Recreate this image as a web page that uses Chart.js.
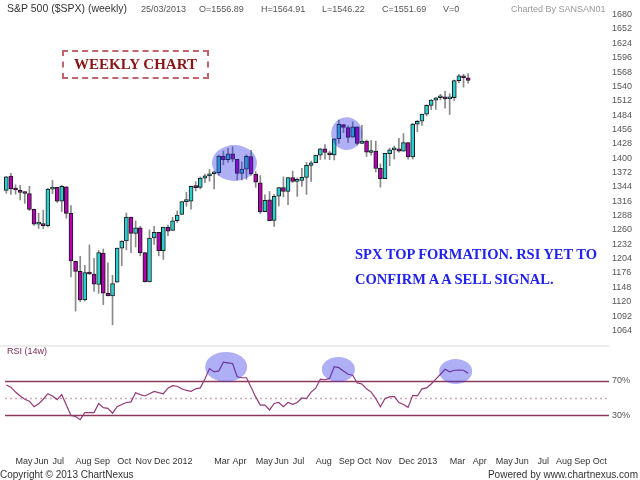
<!DOCTYPE html>
<html>
<head>
<meta charset="utf-8">
<script src="https://cdn.jsdelivr.net/npm/chart.js@4.4.0/dist/chart.umd.min.js"></script>
<style>
  body { margin: 0; background: #fff; width: 640px; height: 480px; overflow: hidden; position: relative;
         font-family: "Liberation Sans", Arial, sans-serif; }
  .t { position: absolute; white-space: nowrap; }
  .hd { top: 3px; font-size: 9px; color: #555; line-height: 12px; }
  #box { position: absolute; left: 62px; top: 50px; width: 147px; height: 29px; box-sizing: border-box;
         border: 2px dashed #c0646e; font: bold 15px "Liberation Serif", serif; color: #8b1414;
         text-align: center; line-height: 25px; }
  #note { position: absolute; left: 355px; top: 242px; font: bold 14.5px "Liberation Serif", serif;
          color: #2222ee; line-height: 25px; white-space: nowrap; }
</style>
</head>
<body>
<div style="position:absolute;left:0;top:0;width:640px;height:346px"><canvas id="priceChart"></canvas></div>
<div style="position:absolute;left:0;top:345px;width:609px;height:2px;background:#ececec"></div>
<div style="position:absolute;left:0;top:346px;width:640px;height:134px"><canvas id="rsiChart"></canvas></div>

<div class="t" style="left:7px;top:2px;font-size:10.5px;color:#333">S&amp;P 500 ($SPX) (weekly)</div>
<div class="t hd" style="left:141px">25/03/2013</div>
<div class="t hd" style="left:199px">O=1556.89</div>
<div class="t hd" style="left:261px">H=1564.91</div>
<div class="t hd" style="left:322px">L=1546.22</div>
<div class="t hd" style="left:382px">C=1551.69</div>
<div class="t hd" style="left:443px">V=0</div>
<div class="t hd" style="left:511px;color:#999">Charted By SANSAN01</div>

<div id="box">WEEKLY CHART</div>
<div id="note">SPX TOP FORMATION. RSI YET TO<br>CONFIRM A A SELL SIGNAL.</div>

<div class="t" style="left:7px;top:346px;font-size:9px;color:#7a2b55">RSI (14w)</div>
<div class="t" style="left:0;top:469px;font-size:10px;color:#333">Copyright © 2013 ChartNexus</div>
<div class="t" style="right:2px;top:469px;font-size:10px;color:#333">Powered by www.chartnexus.com</div>

<script>
// weekly S&P 500 candles, week of 25 Apr 2011 to week of 25 Mar 2013
const opens = [1337.1,1365.2,1340.2,1334.4,1333.1,1331.1,1300.3,1271.3,1271.5,1268.4,
  1339.6,1343.3,1315.9,1344.3,1292.6,1198.5,1179.2,1123.5,1177.9,1174.0,
  1153.5,1215.0,1136.9,1131.2,1158.2,1224.5,1238.7,1285.0,1253.2,1263.9,
  1215.6,1158.7,1244.3,1255.1,1219.7,1265.0,1258.9,1277.8,1290.2,1315.3,
  1316.2,1344.3,1343.1,1361.2,1365.2,1369.6,1371.9,1404.2,1397.1,1408.5,
  1397.5,1370.3,1378.5,1403.3,1368.8,1351.9,1295.7,1318.9,1278.3,1325.7,
  1342.4,1334.9,1362.3,1354.7,1356.5,1362.3,1385.9,1391.0,1405.9,1418.1,
  1410.4,1406.5,1437.9,1465.4,1459.5,1440.9,1460.9,1428.8,1433.2,1411.0,
  1414.0,1380.1,1359.9,1409.0,1416.3,1418.1,1413.5,1430.2,1402.4,1466.5,
  1472.1,1486.0,1503.0,1513.2,1517.9,1519.8,1515.6,1518.2,1551.2,1560.7,1556.89];
const highs = [1364.6,1370.6,1348.0,1346.8,1334.6,1345.2,1300.6,1292.5,1298.6,1341.0,
  1356.5,1343.3,1347.0,1344.3,1307.4,1199.0,1208.5,1190.7,1230.7,1204.4,
  1220.4,1222.8,1195.9,1171.4,1224.6,1239.0,1293.0,1285.0,1277.6,1267.0,
  1215.6,1260.1,1267.1,1255.1,1265.4,1269.4,1284.6,1296.8,1315.5,1333.5,
  1345.3,1354.3,1363.4,1368.9,1378.0,1374.8,1405.9,1414.0,1419.2,1422.4,
  1397.5,1392.8,1406.6,1415.3,1373.9,1365.9,1328.5,1334.9,1329.1,1343.3,
  1363.5,1362.2,1374.8,1361.5,1380.4,1391.7,1394.2,1405.9,1418.7,1426.7,
  1413.6,1437.9,1474.5,1465.6,1463.2,1471.0,1461.0,1464.0,1435.5,1434.3,
  1433.4,1388.8,1409.2,1419.7,1423.7,1438.6,1448.0,1430.2,1467.9,1474.0,
  1486.0,1504.2,1514.4,1518.3,1524.7,1530.9,1525.8,1552.5,1563.6,1563.6,1564.91];
const lows = [1331.5,1329.2,1329.6,1318.5,1311.8,1297.9,1268.7,1262.9,1262.7,1265.6,
  1330.9,1313.5,1295.9,1282.9,1168.1,1101.5,1120.0,1121.1,1172.9,1140.1,
  1136.2,1114.2,1131.1,1074.8,1158.2,1190.4,1221.1,1215.4,1226.6,1209.4,
  1158.7,1158.7,1231.5,1209.5,1202.4,1248.6,1258.9,1274.7,1290.2,1306.1,
  1300.5,1335.9,1340.0,1352.3,1354.9,1340.0,1366.7,1386.9,1391.6,1392.9,
  1357.4,1357.4,1358.8,1367.0,1343.1,1292.0,1295.7,1277.8,1266.7,1306.6,
  1324.4,1309.3,1352.4,1325.4,1345.1,1329.2,1354.7,1391.0,1397.3,1398.0,
  1397.0,1396.6,1429.1,1449.6,1430.5,1440.9,1425.5,1428.1,1403.3,1406.0,
  1373.0,1343.4,1359.9,1385.4,1398.2,1411.9,1413.5,1398.1,1398.1,1451.6,
  1463.8,1482.4,1494.7,1495.0,1513.6,1497.3,1485.0,1512.3,1547.4,1538.6,1546.22];
const closes = [1363.6,1340.2,1337.8,1333.3,1331.1,1300.2,1271.0,1271.5,1268.5,1339.7,
  1343.8,1316.1,1345.0,1292.3,1199.4,1178.8,1123.5,1176.8,1174.0,1154.2,
  1216.0,1136.4,1131.4,1155.5,1224.6,1238.3,1285.1,1253.2,1263.9,1215.7,
  1158.7,1244.3,1255.2,1219.7,1265.3,1257.6,1277.8,1289.1,1315.4,1316.3,
  1344.9,1342.6,1361.2,1365.7,1369.6,1370.9,1404.2,1397.1,1408.5,1398.1,
  1370.3,1378.5,1403.4,1369.1,1353.4,1295.2,1317.8,1278.0,1325.7,1342.8,
  1335.0,1362.2,1354.7,1356.8,1362.7,1386.0,1391.0,1405.9,1418.2,1411.1,
  1406.6,1437.9,1465.8,1460.2,1440.7,1460.9,1428.6,1433.2,1411.9,1414.2,
  1379.9,1359.9,1409.2,1416.2,1418.1,1413.6,1430.2,1402.4,1466.5,1472.1,
  1486.0,1503.0,1513.2,1517.9,1519.8,1515.6,1518.2,1551.2,1560.7,1556.9,1551.69];

// RSI (14w)
const rsi = [65.1,62.5,56.8,52.3,48.5,46.2,39.8,43.2,48.5,54.9,
  52.3,48.1,53.8,41.7,29.7,28.5,24.8,33.1,33.1,33.1,
  43.6,38.7,38.0,32.3,39.8,42.5,44.7,45.5,56.1,53.8,
  52.3,54.9,57.6,56.1,54.9,61.3,64.3,63.6,60.6,58.7,
  57.6,60.6,61.7,71.9,84.0,80.2,81.3,91.5,90.7,90.0,
  74.5,73.4,73.4,62.5,51.2,41.7,41.7,36.1,43.6,44.7,
  39.8,44.7,42.5,44.7,50.0,49.3,56.8,61.3,71.9,71.1,
  72.6,86.2,85.1,81.3,77.5,76.4,67.4,66.2,60.6,56.8,
  49.3,39.8,49.3,51.2,51.9,44.7,42.5,39.1,53.0,52.3,
  60.6,61.7,66.2,71.9,77.5,83.2,80.2,82.1,82.4,82.1,78.7];

const priceTicks = [1064,1092,1120,1148,1176,1204,1232,1260,1288,1316,1344,1372,
  1400,1428,1456,1484,1512,1540,1568,1596,1624,1652,1680];
const rsiLevels = [70, 50, 30];
const rsiTicks = [70, 30];

const monthTickWeek = [2,6,10,15,19,24,28,32,36,45,49,54,58,62,67,72,76,80,85,89,96,101,106,110,115,119,123,127];
const monthTickText = ['May','Jun','Jul','Aug','Sep','Oct','Nov','Dec','2012','Mar','Apr','May','Jun','Jul',
  'Aug','Sep','Oct','Nov','Dec','2013','Mar','Apr','May','Jun','Jul','Aug','Sep','Oct'];

// hand-drawn ovals (centre week, centre level, half width in weeks, half height in value units)
const priceOvalWeek = [49.4, 73.7];
const priceOvalLevel = [1390.5, 1448];
const priceOvalHalfWeeks = [4.87, 3.36];
const priceOvalHalfSpan = [35, 32];
const rsiOvalWeek = [47.6, 71.9, 97.3];
const rsiOvalLevel = [85.9, 83.0, 80.7];
const rsiOvalHalfWeeks = [4.55, 3.57, 3.57];
const rsiOvalHalfSpan = [17.4, 14.5, 14.5];

// axis runs on to Oct 2013 : 131 weekly slots
const weeks = [];
const start = new Date(Date.UTC(2011, 3, 25));
for (let i = 0; i < 131; i++) {
  const d = new Date(start.getTime() + i * 7 * 86400000);
  weeks.push(d.toISOString().slice(0, 10));
}

const UP = '#2ccfcf', DOWN = '#b400b4';
const FONT = "'Liberation Sans', Arial, sans-serif";

// keep the plot area edge to edge, no room for half tick labels
const noPad = s => { s.paddingTop = 0; s.paddingBottom = 0; s.paddingLeft = 0; s.paddingRight = 0; };

const ovalPlugin = {
  id: 'ovals',
  afterDatasetsDraw(chart, args, o) {
    const { ctx, scales: { x, y } } = chart;
    ctx.save();
    ctx.fillStyle = 'rgba(45,45,230,0.38)';
    o.week.forEach((w, k) => {
      const cx = x.getPixelForValue(w);
      const cy = y.getPixelForValue(o.level[k]);
      const rx = Math.abs(x.getPixelForValue(w + o.halfWeeks[k]) - cx);
      const ry = Math.abs(y.getPixelForValue(o.level[k] + o.halfSpan[k]) - cy);
      ctx.beginPath();
      ctx.ellipse(cx, cy, rx, ry, 0, 0, Math.PI * 2);
      ctx.fill();
    });
    ctx.restore();
  }
};

const levelPlugin = {
  id: 'levels',
  beforeDatasetsDraw(chart) {
    const { ctx, chartArea: a, scales: { y } } = chart;
    ctx.save();
    rsiLevels.forEach(v => {
      const py = Math.round(y.getPixelForValue(v)) + 0.5;
      ctx.beginPath();
      if (v === 50) {
        ctx.strokeStyle = '#cfa9ba';
        ctx.lineWidth = 1.5;
        ctx.setLineDash([2, 3]);
      } else {
        ctx.strokeStyle = '#8a3a5e';
        ctx.lineWidth = 1.3;
        ctx.setLineDash([]);
      }
      ctx.moveTo(a.left + 1, py);
      ctx.lineTo(a.right, py);
      ctx.stroke();
    });
    ctx.restore();
  }
};

new Chart(document.getElementById('priceChart'), {
  type: 'bar',
  data: {
    labels: weeks,
    datasets: [
      {
        data: opens.map((o, i) => [o, closes[i]]),
        backgroundColor: closes.map((c, i) => c >= opens[i] ? UP : DOWN),
        borderColor: '#1a1a1a',
        borderWidth: 1,
        borderSkipped: false,
        barThickness: 4,
        minBarLength: 2,
        grouped: false,
        order: 0
      },
      {
        data: lows.map((l, i) => [l, highs[i]]),
        backgroundColor: '#8a8a8a',
        barThickness: 1,
        grouped: false,
        order: 1
      }
    ]
  },
  options: {
    responsive: true,
    maintainAspectRatio: false,
    animation: false,
    layout: { padding: { left: 4, right: 0, top: 0, bottom: 0 } },
    plugins: {
      legend: { display: false },
      tooltip: { enabled: false },
      ovals: { week: priceOvalWeek, level: priceOvalLevel, halfWeeks: priceOvalHalfWeeks, halfSpan: priceOvalHalfSpan }
    },
    scales: {
      x: { display: false, offset: true, grid: { display: false } },
      y: {
        position: 'right',
        min: 1033.5,
        max: 1708.6,
        grid: { display: false, drawTicks: false },
        border: { display: false },
        afterBuildTicks: s => { s.ticks = priceTicks.map(v => ({ value: v })); },
        afterFit: s => { s.width = 31; noPad(s); },
        ticks: { font: { size: 9, family: FONT }, color: '#555', padding: 3, callback: v => String(v) }
      }
    }
  },
  plugins: [ovalPlugin]
});

new Chart(document.getElementById('rsiChart'), {
  type: 'line',
  data: {
    labels: weeks,
    datasets: [{
      data: rsi,
      borderColor: '#923a78',
      borderWidth: 1.2,
      pointRadius: 0,
      tension: 0
    }]
  },
  options: {
    responsive: true,
    maintainAspectRatio: false,
    animation: false,
    layout: { padding: { left: 4, right: 0, top: 0, bottom: 12 } },
    plugins: {
      legend: { display: false },
      tooltip: { enabled: false },
      ovals: { week: rsiOvalWeek, level: rsiOvalLevel, halfWeeks: rsiOvalHalfWeeks, halfSpan: rsiOvalHalfSpan }
    },
    scales: {
      x: {
        offset: true,
        grid: { display: false, drawTicks: false },
        border: { display: false },
        afterFit: s => { s.height = 20; noPad(s); },
        ticks: {
          autoSkip: false,
          maxRotation: 0,
          align: 'start',
          padding: 8,
          font: { size: 9, family: FONT },
          color: '#333',
          callback: (v, i) => {
            const k = monthTickWeek.indexOf(i);
            return k < 0 ? null : monthTickText[k];
          }
        }
      },
      y: {
        position: 'right',
        min: -8,
        max: 110.2,
        grid: { display: false, drawTicks: false },
        border: { display: false },
        afterBuildTicks: s => { s.ticks = rsiTicks.map(v => ({ value: v })); },
        afterFit: s => { s.width = 31; noPad(s); },
        ticks: { font: { size: 9, family: FONT }, color: '#555', padding: 3, callback: v => v + '%' }
      }
    }
  },
  plugins: [levelPlugin, ovalPlugin]
});
</script>
</body>
</html>
